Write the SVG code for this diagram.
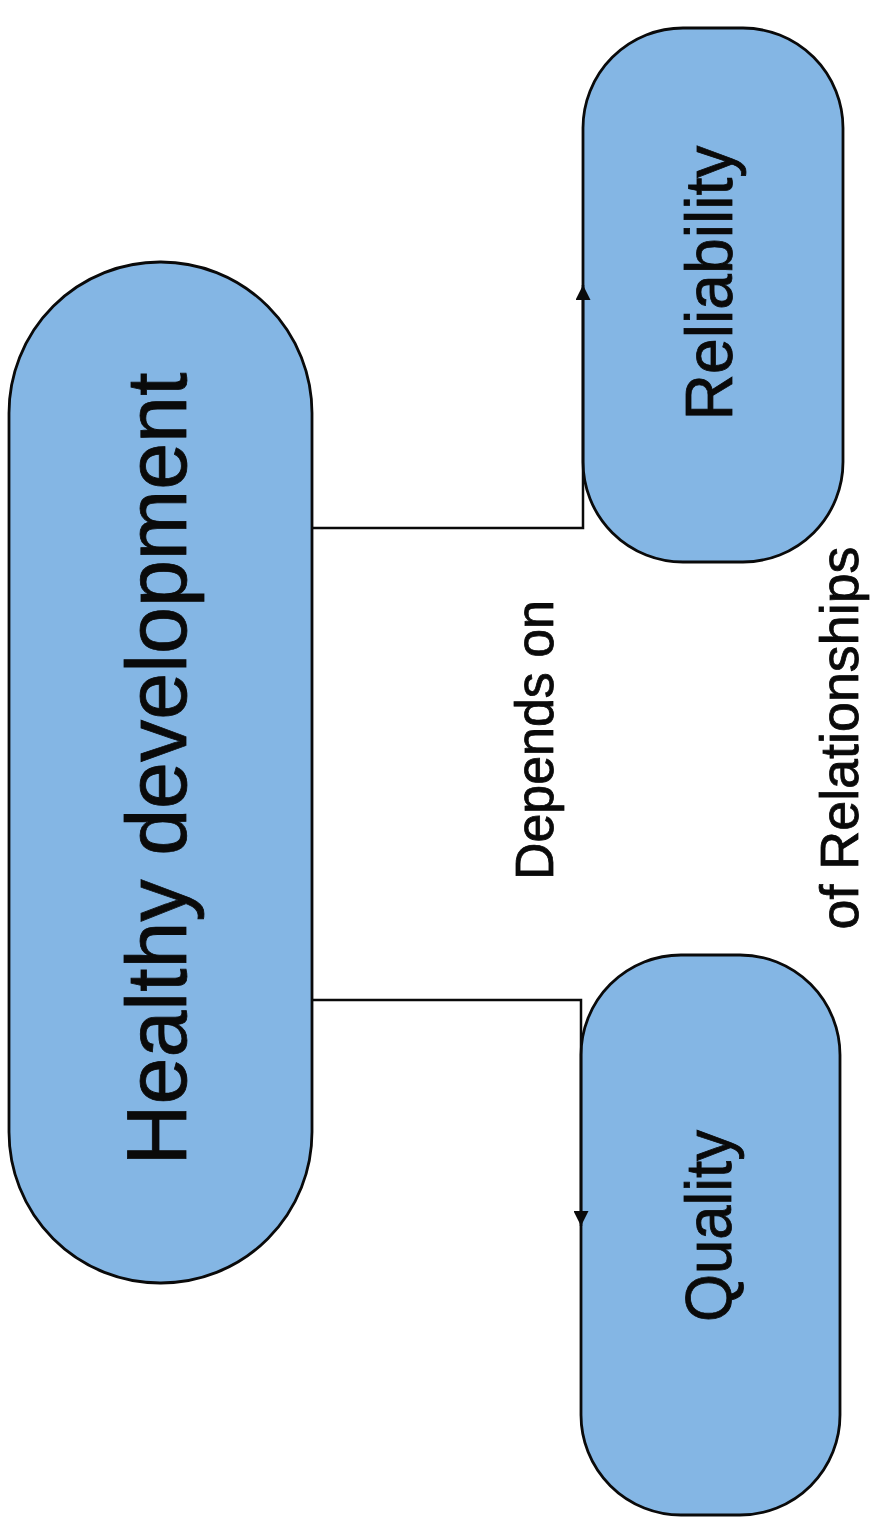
<svg xmlns="http://www.w3.org/2000/svg" width="870" height="1524" viewBox="0 0 870 1524">
<style>
.node{fill:#84b6e4;stroke:#0a0a0a;stroke-width:2.8}
.lbl{font-family:"Liberation Sans",Arial,sans-serif;fill:#0a0a0a;stroke:#0a0a0a;stroke-width:0.8;text-anchor:middle}
.conn{fill:none;stroke:#0a0a0a;stroke-width:2.5}
</style>
<defs>
<marker id="arr" viewBox="0 0 10 10" refX="10" refY="5" markerWidth="6" markerHeight="6" orient="auto" markerUnits="strokeWidth">
<path d="M0,0 L10,5 L0,10 z" fill="#0a0a0a"/>
</marker>
</defs>
<rect width="870" height="1524" fill="#ffffff"/>
<g id="healthy">
<rect class="node" x="9" y="262" width="303" height="1021" rx="151" ry="151"/>
<text class="lbl" transform="translate(186,769) rotate(-90)" font-size="86" textLength="793" lengthAdjust="spacingAndGlyphs">Healthy development</text>
</g>
<g id="reliability">
<rect class="node" x="583" y="28" width="260" height="534" rx="100" ry="100"/>
<text class="lbl" transform="translate(732,283) rotate(-90)" font-size="66" textLength="275" lengthAdjust="spacingAndGlyphs">Reliability</text>
</g>
<g id="quality">
<rect class="node" x="581" y="955" width="259" height="560" rx="100" ry="100"/>
<text class="lbl" transform="translate(731,1226) rotate(-90)" font-size="64" textLength="192" lengthAdjust="spacingAndGlyphs">Quality</text>
</g>
<g id="labels">
<text class="lbl" transform="translate(553,740) rotate(-90)" font-size="54" textLength="280" lengthAdjust="spacingAndGlyphs">Depends on</text>
<text class="lbl" transform="translate(858,738) rotate(-90)" font-size="54" textLength="383" lengthAdjust="spacingAndGlyphs">of Relationships</text>
</g>
<g id="connectors">
<path class="conn" d="M312,528 H583 V285" marker-end="url(#arr)"/>
<path class="conn" d="M312,1000 H581 V1226" marker-end="url(#arr)"/>
</g>
</svg>
